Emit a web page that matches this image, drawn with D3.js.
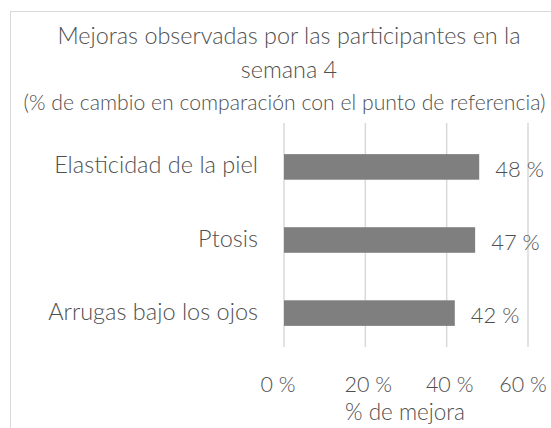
<!DOCTYPE html>
<html><head><meta charset="utf-8">
<script src="https://cdn.jsdelivr.net/npm/d3@7"></script>
<style>body{margin:0;background:#fff}svg{display:block}text{font-family:Lato,"Open Sans",sans-serif;font-weight:300;fill:#505050}</style>
</head><body>
<script>
const categories = ["Elasticidad de la piel", "Ptosis", "Arrugas bajo los ojos"];
const values = [48, 47, 42];
const valueLabels = ["48 %", "47 %", "42 %"];
const ticks = [0, 20, 40, 60];
const tickLabels = ["0 %", "20 %", "40 %", "60 %"];
const titleLines = ["Mejoras observadas por las participantes en la", "semana 4"];
const subtitle = "(% de cambio en comparación con el punto de referencia)";
const axisTitle = "% de mejora";

const W = 551, H = 428;
const svg = d3.select("body").append("svg").attr("width", W).attr("height", H);
// border
svg.append("rect").attr("x", 10.5).attr("y", 11.5).attr("width", 560).attr("height", 430)
  .attr("fill", "none").attr("stroke", "#d9d9d9");

const x = d3.scaleLinear().domain([0, 60]).range([284, 528]);
const y = d3.scaleBand().domain(categories).range([130, 350]).paddingInner(0.65).paddingOuter(0.33);

// gridlines
svg.append("g").selectAll("line").data(ticks).join("line")
  .attr("x1", d => x(d)).attr("x2", d => x(d)).attr("y1", 123).attr("y2", 347)
  .attr("stroke", "#d9d9d9").attr("stroke-width", 1.5);

// bars
svg.append("g").selectAll("rect").data(values).join("rect")
  .attr("x", x(0)).attr("y", (d, i) => y(categories[i]))
  .attr("width", d => x(d) - x(0)).attr("height", y.bandwidth())
  .attr("fill", "#7f7f7f");

// value labels
svg.append("g").selectAll("text").data(values).join("text")
  .attr("x", d => x(d) + 16).attr("y", (d, i) => y(categories[i]) + y.bandwidth() / 2 + 10)
  .attr("font-size", 22).text((d, i) => valueLabels[i]);

// category labels
svg.append("g").selectAll("text").data(categories).join("text")
  .attr("x", 258).attr("y", d => y(d) + y.bandwidth() / 2 + 6.5)
  .attr("text-anchor", "end").attr("font-size", 23.5).text(d => d);

// tick labels
const tickOffsets = [-6, 3, 3, -5];
svg.append("g").selectAll("text").data(ticks).join("text")
  .attr("x", (d, i) => x(d) + tickOffsets[i]).attr("y", 391.5).attr("text-anchor", "middle")
  .attr("font-size", 21.5).text((d, i) => tickLabels[i]);

svg.append("text").attr("x", 405).attr("y", 420).attr("text-anchor", "middle")
  .attr("font-size", 22.5).text(axisTitle);

const titleY = [44, 78];
svg.append("g").selectAll("text").data(titleLines).join("text")
  .attr("x", 289).attr("y", (d, i) => titleY[i]).attr("text-anchor", "middle")
  .attr("font-size", 23.4).text(d => d);
svg.append("text").attr("x", 284.5).attr("y", 109.5).attr("text-anchor", "middle")
  .attr("font-size", 21.2).text(subtitle);
</script>
</body></html>
